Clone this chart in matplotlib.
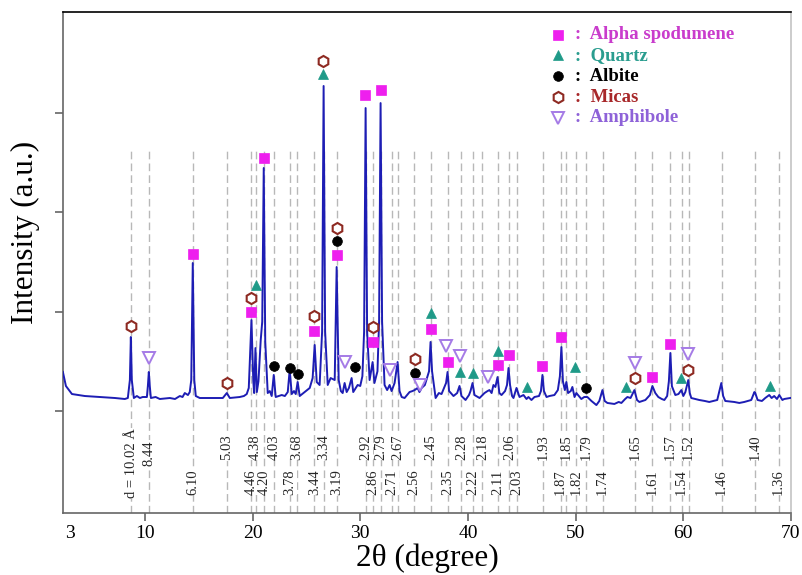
import matplotlib
matplotlib.use("Agg")
from matplotlib import pyplot as plt

# XRD trace: 2theta (deg) and intensity (a.u.)
two_theta = [
    2.39, 2.67, 3.23, 4.43, 5.83, 7.22, 8.14, 8.42, 8.61, 8.70, 8.79, 8.98, 9.26, 9.54, 9.80,
    10.19, 10.28, 10.37, 10.46, 10.56, 11.00, 11.39, 12.32, 12.80, 13.25, 13.50, 13.71, 14.00,
    14.17, 14.31, 14.45, 14.59, 14.73, 15.10, 15.57, 16.49, 17.24, 17.61, 17.89, 18.81, 19.20,
    19.46, 19.65, 19.90, 20.07, 20.15, 20.27, 20.40, 20.55, 20.76, 20.90, 21.04, 21.18, 21.41,
    21.60, 21.78, 21.97, 22.15, 22.71, 23.00, 23.27, 23.45, 23.64, 23.85, 24.01, 24.19, 24.38,
    24.84, 25.31, 25.58, 25.77, 25.96, 26.23, 26.46, 26.60, 26.74, 26.98, 27.25, 27.63, 27.81,
    28.00, 28.20, 28.37, 28.55, 28.74, 28.95, 29.20, 29.35, 29.76, 30.00, 30.20, 30.36, 30.50,
    30.64, 30.87, 31.15, 31.32, 31.60, 31.75, 31.89, 32.03, 32.26, 32.50, 32.73, 32.91, 33.19,
    33.47, 33.65, 33.85, 34.12, 34.58, 34.85, 35.05, 35.33, 35.50, 35.70, 36.00, 36.39, 36.53,
    36.67, 37.00, 37.30, 37.55, 37.97, 38.11, 38.25, 38.66, 39.00, 39.22, 39.40, 39.78, 40.10,
    40.24, 40.43, 40.61, 41.08, 41.54, 41.82, 42.00, 42.20, 42.37, 42.55, 42.75, 42.92, 43.12,
    43.45, 43.63, 43.77, 43.91, 44.10, 44.23, 44.51, 44.79, 45.16, 45.44, 45.62, 45.90, 46.18,
    46.60, 46.78, 46.92, 47.06, 47.30, 47.57, 48.03, 48.35, 48.54, 48.68, 48.82, 49.00, 49.14,
    49.30, 49.55, 49.70, 49.90, 50.07, 50.30, 50.53, 50.80, 51.09, 51.47, 51.93, 52.20, 52.49,
    52.70, 52.95, 53.60, 54.00, 54.25, 54.60, 54.81, 55.10, 55.46, 55.70, 55.92, 56.48, 56.90,
    57.13, 57.40, 57.68, 58.00, 58.24, 58.50, 58.66, 58.80, 58.94, 59.26, 59.55, 59.82, 60.00,
    60.19, 60.46, 60.60, 60.74, 61.48, 62.00, 62.41, 63.15, 63.53, 63.70, 63.90, 64.73, 65.20,
    65.66, 66.31, 66.60, 66.68, 66.90, 67.30, 67.61, 67.98, 68.20, 68.44, 68.70, 68.91, 69.20,
    69.37, 69.93,
]
intensity = [
    393, 252, 171, 151, 141, 131, 121, 131, 312, 745, 312, 131, 151, 131, 141,
    141, 250, 393, 250, 131, 141, 121, 131, 121, 151, 141, 181, 161,
    191, 312, 1490, 312, 151, 131, 131, 131, 131, 181, 131, 141, 151,
    171, 232, 916, 300, 181, 634, 191, 300, 715, 900, 2447, 700, 181,
    201, 151, 363, 141, 161, 151, 191, 413, 171, 201, 171, 292, 151,
    191, 232, 332, 665, 292, 262, 800, 3273, 800, 262, 332, 312, 1450,
    312, 201, 181, 282, 191, 232, 332, 191, 262, 252, 350, 800, 3051,
    800, 312, 493, 282, 400, 900, 3101, 900, 262, 211, 262, 201, 282,
    493, 201, 141, 131, 191, 201, 211, 232, 191, 232, 262, 400, 695,
    400, 131, 181, 171, 282, 393, 201, 151, 181, 252, 151, 111, 161,
    201, 282, 161, 131, 181, 201, 211, 181, 262, 242, 342, 181, 161,
    201, 262, 433, 262, 151, 131, 232, 141, 161, 121, 141, 111, 141,
    151, 201, 363, 201, 141, 151, 161, 211, 350, 644, 300, 211, 292,
    181, 201, 242, 141, 181, 151, 121, 141, 141, 101, 60, 101, 211,
    101, 81, 71, 91, 81, 121, 141, 131, 211, 111, 91, 111, 161,
    252, 181, 141, 121, 111, 151, 300, 584, 250, 161, 171, 211, 151,
    191, 312, 181, 131, 111, 101, 91, 111, 282, 151, 101, 91, 81,
    91, 111, 191, 181, 111, 101, 131, 161, 131, 151, 121, 161, 111,
    121, 131,
]

# d-spacings (Angstrom) and where their reference lines sit
d_spacing = [
    "10.02", "8.44", "6.10", "5.03", "4.46", "4.38", "4.20", "4.03", "3.78", "3.68", "3.44",
    "3.34", "3.19", "2.92", "2.86", "2.79", "2.71", "2.67", "2.56", "2.45", "2.35", "2.28",
    "2.22", "2.18", "2.11", "2.06", "2.03", "1.93", "1.87", "1.85", "1.82", "1.79", "1.74",
    "1.65", "1.61", "1.57", "1.54", "1.52", "1.46", "1.40", "1.36",
]
d_line_tt = [
    8.75, 10.40, 14.47, 17.62, 19.88, 20.28, 21.10, 22.00, 23.50, 24.15, 25.75,
    26.62, 27.85, 30.52, 31.18, 31.95, 32.95, 33.48, 35.00, 36.58, 38.15, 39.40,
    40.45, 41.35, 42.75, 43.85, 44.55, 46.98, 48.60, 49.15, 50.05, 50.95, 52.50,
    55.55, 57.10, 58.75, 59.85, 60.50, 63.55, 66.70, 68.85,
]

# identified phases: peak position / marker height
spodumene_tt = [14.45, 19.88, 21.04, 25.75, 27.81, 30.45, 31.15, 31.89, 36.53, 38.11, 42.75,
                43.82, 46.92, 48.68, 57.13, 58.80]
spodumene_int = [1581, 997, 2548, 806, 1571, 3182, 695, 3232, 826, 493, 463, 564, 453, 745,
                 342, 675]
quartz_tt = [20.36, 26.58, 36.53, 39.22, 40.43, 42.75, 45.44, 49.98, 54.71, 59.82, 68.07]
quartz_int = [1269, 3394, 987, 393, 383, 604, 242, 443, 242, 332, 252]
albite_tt = [21.97, 23.45, 24.19, 27.81, 29.48, 35.05, 51.00]
albite_int = [453, 433, 373, 1712, 443, 383, 232]
micas_tt = [8.70, 17.61, 19.83, 25.75, 26.58, 27.81, 31.15, 35.05, 55.55, 60.46]
micas_int = [856, 282, 1138, 957, 3525, 1843, 846, 524, 332, 413]
amphibole_tt = [10.37, 28.55, 32.73, 35.51, 37.97, 39.22, 41.82, 55.55, 60.46]
amphibole_int = [534, 493, 413, 262, 655, 554, 342, 483, 574]

phase_names = ["Alpha spodumene", "Quartz", "Albite", "Micas", "Amphibole"]

plt.rcParams['font.family'] = ['Liberation Serif', 'DejaVu Serif']

fig = plt.figure(figsize=(8.03, 5.75), dpi=100)
ax = fig.add_axes([63 / 803, 1 - 513 / 575, 728 / 803, 500.7 / 575])

YLO, YHI = -1027, 4015
ax.vlines(d_line_tt, YLO, 2630, colors='#b8b8b8', linestyles=(0, (5.5, 3)), linewidth=1.0, zorder=1)
ax.plot(two_theta, intensity, color='#1d1db4', lw=1.4, zorder=3)

# d-spacing annotations in two staggered rows
for i, (lab, pos) in enumerate(zip(d_spacing, d_line_tt)):
    txt = lab
    if i == 0:
        txt, yy = f"d = {lab} Å", -524
    elif i == 1:
        yy = -430
    elif i % 2 == 0:
        yy = -715
    else:
        yy = -363
    ax.text(pos, yy, txt, rotation=90, ha='center', va='center', fontsize=10.5, color='#262626',
            bbox=dict(fc='white', ec='none', pad=0.4), zorder=2)

styles = [
    dict(marker='s', ms=7.5, mfc='#ee1fee', mec='#ee1fee', mew=0.5),
    dict(marker='^', ms=7.5, mfc='#1f9a88', mec='#1f9a88', mew=0.5),
    dict(marker='o', ms=7, mfc='black', mec='black', mew=0.5),
    dict(marker='h', ms=8, mfc='white', mec='#8e2a22', mew=1.5),
    dict(marker='v', ms=8, mfc='white', mec='#a57be6', mew=1.4),
]
text_colors = ['#c93ccc', '#2a9d8f', 'black', '#a8282a', '#8e62d8']
series = [(spodumene_tt, spodumene_int), (quartz_tt, quartz_int), (albite_tt, albite_int),
          (micas_tt, micas_int), (amphibole_tt, amphibole_int)]

for (xs, ys), st in zip(series, styles):
    ax.plot(xs, ys, ls='none', zorder=4, **st)

# hand-drawn legend, top right
leg_y = [0.955, 0.914, 0.872, 0.830, 0.789]
for name, st, col, yy in zip(phase_names, styles, text_colors, leg_y):
    ax.plot([0.68], [yy], transform=ax.transAxes, ls='none', clip_on=False, zorder=5, **st)
    ax.text(0.703, yy, f":  {name}", transform=ax.transAxes, ha='left', va='center',
            fontsize=13.5, fontweight='bold', color=col)

ax.set_xlim(2.4, 70.0)
ax.set_ylim(YLO, YHI)
ax.set_xticks([3, 10, 20, 30, 40, 50, 60, 70])
ax.set_yticks([0, 1000, 2000, 3000])
ax.set_yticklabels([])
ax.tick_params(direction='out', length=6, width=1.2, color='#666666', labelsize=14, pad=3)
ax.xaxis.get_major_ticks()[0].tick1line.set_visible(False)

for side, col in [('top', 'black'), ('left', '#666666'), ('bottom', '#666666'), ('right', '#c4c4c4')]:
    ax.spines[side].set_color(col)
    ax.spines[side].set_linewidth(1.2)

ax.set_xlabel("2θ (degree)", fontsize=22.5)
ax.xaxis.set_label_coords(0.5, -0.09)
ax.xaxis.label.set_va('center')
ax.set_ylabel("Intensity (a.u.)", fontsize=22.5)
ax.yaxis.set_label_coords(-0.052, 0.561)
ax.yaxis.label.set_va('center')

fig.savefig("out.png", dpi=100)
